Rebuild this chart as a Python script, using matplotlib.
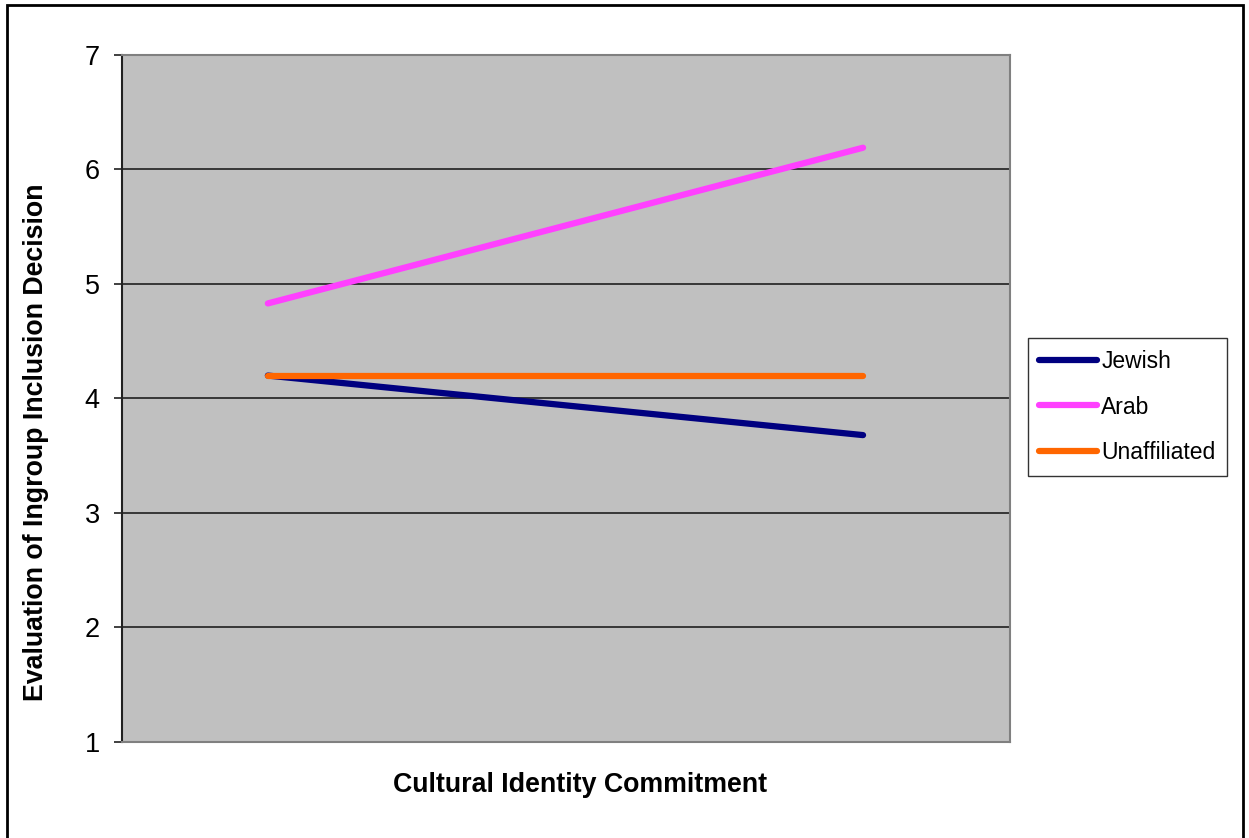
import matplotlib.pyplot as plt
from matplotlib.patches import Rectangle

# interaction plot: low vs high commitment
commitment = [0, 1]
jewish = [4.20, 3.68]
arab = [4.83, 6.19]
unaffiliated = [4.20, 4.20]
yticks = [1, 2, 3, 4, 5, 6, 7]

plt.rcParams['font.family'] = ['Liberation Sans', 'DejaVu Sans']

fig = plt.figure(figsize=(12.49, 8.38), dpi=100)
ax = fig.add_axes([0.0977, 0.1146, 0.711, 0.8198])
ax.set_facecolor('#C0C0C0')

ax.plot(commitment, jewish, color='#000080', lw=4.5, solid_capstyle='round', label='Jewish')
ax.plot(commitment, arab, color='#FF40FF', lw=4.5, solid_capstyle='round', label='Arab')
ax.plot(commitment, unaffiliated, color='#FF6600', lw=4.5, solid_capstyle='round', label='Unaffiliated')

ax.set_xlim(-0.245, 1.247)
ax.set_ylim(1, 7)
ax.set_yticks(yticks)
ax.set_xticks([])
for y in yticks[1:-1]:
    ax.axhline(y, color='#202020', lw=1.2, zorder=1)

for side in ['top', 'right', 'bottom']:
    ax.spines[side].set_color('#808080')
    ax.spines[side].set_linewidth(1.5)
ax.spines['left'].set_color('#202020')
ax.spines['left'].set_linewidth(1.5)
ax.tick_params(axis='y', labelsize=19.5, length=6, width=1.2, color='#202020', pad=10)

ax.set_xlabel('Cultural Identity Commitment', fontsize=19.3, fontweight='bold', va='center')
ax.xaxis.set_label_coords(0.516, -0.0626)
ax.set_ylabel('Evaluation of Ingroup Inclusion Decision', fontsize=19.3, fontweight='bold', va='center')
ax.yaxis.set_label_coords(-0.097, 0.4367)

leg = ax.legend(loc='upper left', bbox_to_anchor=(0.823, 0.5965), bbox_transform=fig.transFigure,
                fontsize=16.5, frameon=True, fancybox=False, edgecolor='black',
                handlelength=2.5, labelspacing=1.0, handletextpad=0.2, borderpad=0.5,
                borderaxespad=0)
leg.get_frame().set_linewidth(1.0)

# outer chart frame
fig.patches.append(Rectangle((0.0056, -0.01), 0.9896, 1.004, transform=fig.transFigure,
                             fill=False, edgecolor='black', lw=2))

fig.savefig('out.png', dpi=100)
